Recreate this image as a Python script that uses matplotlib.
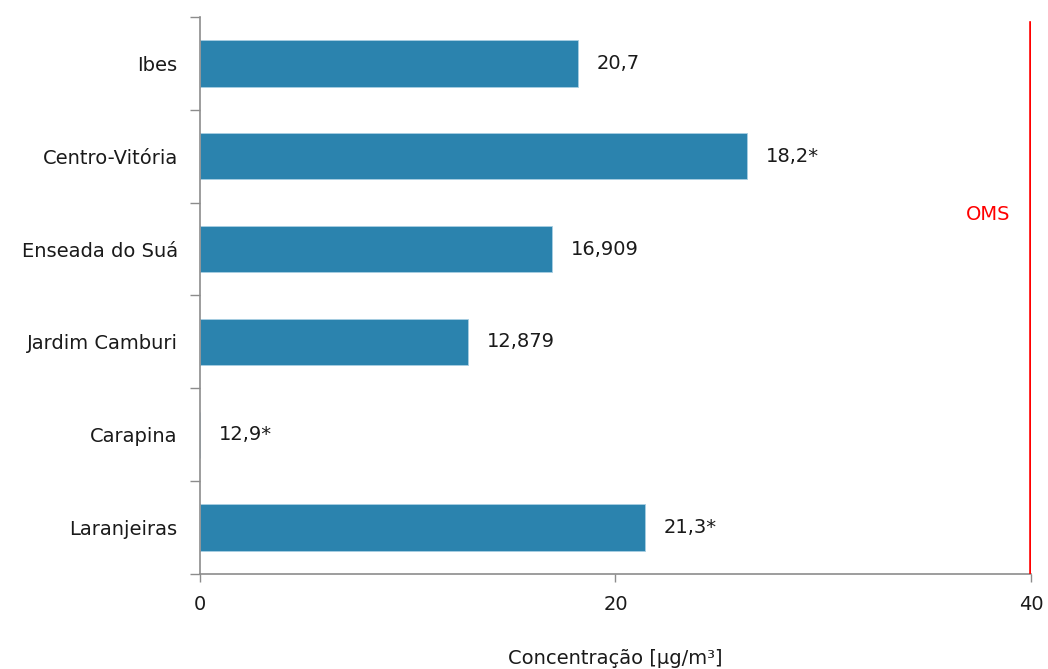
import matplotlib
matplotlib.use("Agg")
import matplotlib.pyplot as plt
import numpy as np

# Data
estacoes = ["Ibes", "Centro-Vitória", "Enseada do Suá", "Jardim Camburi", "Carapina", "Laranjeiras"]
comprimentos = [18.2, 26.35, 16.95, 12.9, 0.0, 21.4]
rotulos = ["20,7", "18,2*", "16,909", "12,879", "12,9*", "21,3*"]
limite_oms = 40
ticks_x = [0, 20, 40]

plt.rcParams["font.family"] = ["DejaVu Sans"]

fig = plt.figure(figsize=(10.48, 6.69), dpi=100)
ax = fig.add_axes([0.1908, 0.142, 0.7930, 0.8326])

cor_eixo = "#8c8c8c"
fs = 14
y = np.arange(len(estacoes))
ax.barh(y, comprimentos, height=0.5, color="#2b83ae", edgecolor="#a9cfe3", linewidth=0.6)

# data labels next to the bars
for yi, comp, txt in zip(y, comprimentos, rotulos):
    ax.text(comp + 0.9, yi, txt, va="center", ha="left", fontsize=fs, color="#1a1a1a")

# WHO limit line
ax.axvline(limite_oms, ymin=0, ymax=0.99, color="#ff0000", linewidth=2.6, zorder=5)
ax.text(39.0, 0.645, "OMS", transform=ax.get_xaxis_transform(), color="#ff0000",
        ha="right", va="center", fontsize=fs)

ax.set_xlim(0, 40)
ax.set_ylim(len(estacoes) - 0.5, -0.5)
ax.set_xticks(ticks_x)
ax.set_xticklabels([str(t) for t in ticks_x])
ax.set_yticks(y)
ax.set_yticklabels(estacoes)
ax.set_yticks(np.arange(-0.5, len(estacoes)), minor=True)

ax.tick_params(axis="y", which="major", length=0, pad=16, labelsize=fs, labelcolor="#1a1a1a")
ax.tick_params(axis="y", which="minor", length=7, width=1, color=cor_eixo, direction="out")
ax.tick_params(axis="x", length=6, width=1, color=cor_eixo, pad=9, labelsize=fs, labelcolor="#1a1a1a")

ax.set_xlabel("Concentração [µg/m³]", fontsize=fs, color="#1a1a1a", labelpad=25)

for lado in ["top", "right"]:
    ax.spines[lado].set_visible(False)
for lado in ["left", "bottom"]:
    ax.spines[lado].set_color(cor_eixo)
    ax.spines[lado].set_linewidth(1.2)

fig.savefig("out.png", dpi=100)
